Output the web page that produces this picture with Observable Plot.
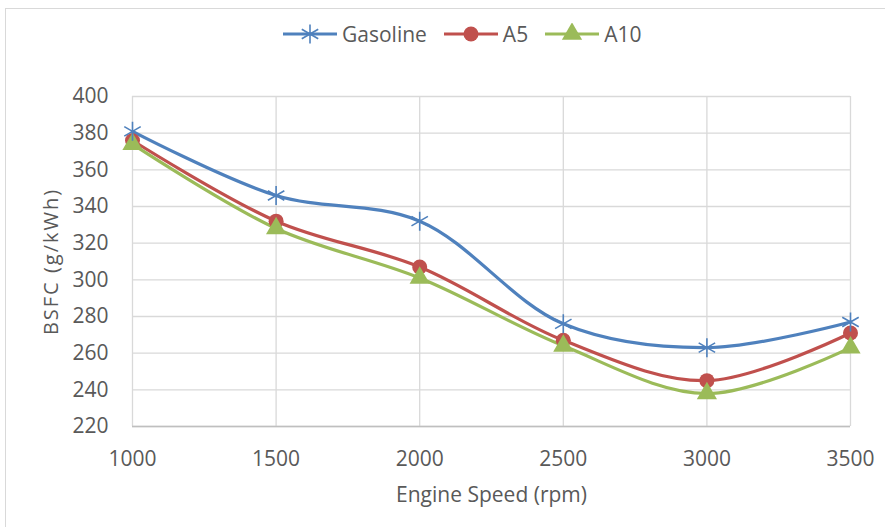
<!DOCTYPE html>
<html>
<head>
<meta charset="utf-8">
<script src="https://cdn.jsdelivr.net/npm/d3@7"></script>
<script src="https://cdn.jsdelivr.net/npm/@observablehq/plot@0.6"></script>
<style>
  html, body { margin: 0; padding: 0; background: #fff; }
  #wrap { position: relative; width: 885px; height: 527px; overflow: hidden; font-family: "Open Sans", sans-serif; }
  #border { position: absolute; left: 5px; top: 8px; width: 885px; height: 540px; border: 1px solid #d9d9d9; box-sizing: border-box; }
  #legend { position: absolute; left: 283px; top: 20px; display: flex; align-items: center; font-size: 21px; color: #595959; }
  .item { display: flex; align-items: center; margin-right: 17px; }
  .item svg { margin-right: 5px; }
  #chart { position: absolute; left: 0; top: 0; }
</style>
</head>
<body>
<div id="wrap">
  <div id="border"></div>
  <div id="chart"></div>
  <div id="legend"></div>
</div>
<script>
const speeds = [1000, 1500, 2000, 2500, 3000, 3500];
const gasoline = [381, 346, 332, 276, 263, 277];
const a5 = [376, 332, 307, 267, 245, 271];
const a10 = [374, 328, 301, 264, 238, 263];
const seriesNames = ["Gasoline", "A5", "A10"];
const seriesColors = ["#4F81BD", "#C0504D", "#9BBB59"];
const seriesSymbols = ["asterisk", "circle", "triangle"];
const xTicks = [1000, 1500, 2000, 2500, 3000, 3500];
const yTicks = [220, 240, 260, 280, 300, 320, 340, 360, 380, 400];
const xTitle = "Engine Speed (rpm)";
const yTitle = "BSFC (g/kWh)";

const valuesBySeries = [gasoline, a5, a10];
const data = [];
seriesNames.forEach((s, i) => speeds.forEach((x, j) => data.push({series: s, speed: x, bsfc: valuesBySeries[i][j]})));

const color = {domain: seriesNames, range: seriesColors};
const symbol = {domain: seriesNames, range: seriesSymbols};

const chart = Plot.plot({
  width: 885,
  height: 527,
  marginLeft: 132,
  marginRight: 35,
  marginTop: 96,
  marginBottom: 101,
  style: {fontFamily: "Open Sans, sans-serif", fontSize: "21px", color: "#595959", background: "transparent", overflow: "visible"},
  x: {domain: [1000, 3500]},
  y: {domain: [220, 400]},
  color,
  symbol,
  marks: [
    Plot.gridX(xTicks, {stroke: "#d9d9d9", strokeOpacity: 1, strokeWidth: 1.3}),
    Plot.gridY(yTicks, {stroke: "#d9d9d9", strokeOpacity: 1, strokeWidth: 1.3}),
    Plot.ruleY([220], {stroke: "#bfbfbf", strokeWidth: 1.3}),
    Plot.axisX(xTicks, {tickSize: 0, tickPadding: 25, label: null, tickFormat: d => String(d), fill: "#595959"}),
    Plot.axisY(yTicks, {tickSize: 0, tickPadding: 24, label: null, tickFormat: d => String(d), fill: "#595959"}),
    Plot.text([xTitle], {frameAnchor: "bottom", dy: 69, lineAnchor: "middle", fill: "#595959", fontSize: 21}),
    Plot.text([yTitle], {frameAnchor: "left", dx: -81, rotate: -90, textAnchor: "middle", lineAnchor: "middle", fill: "#595959", fontSize: 20, style: "letter-spacing: 2px"}),
    Plot.line(data, {x: "speed", y: "bsfc", z: "series", stroke: "series", strokeWidth: 3.2, curve: "catmull-rom"}),
    Plot.dot(data.filter(d => d.series !== "Gasoline"), {x: "speed", y: "bsfc", symbol: "series", fill: "series", r: 7.5}),
    Plot.dot(data.filter(d => d.series === "Gasoline"), {x: "speed", y: "bsfc", symbol: "series", stroke: "series", strokeWidth: 1.6, r: 9})
  ]
});
document.getElementById("chart").appendChild(chart);
d3.select(chart).selectAll("text").filter(function() { return this.textContent === yTitle; }).attr("letter-spacing", "2px");

// legend
const legend = d3.select("#legend");
const symMap = {asterisk: d3.symbolAsterisk, circle: d3.symbolCircle, triangle: d3.symbolTriangle};
seriesNames.forEach((s, i) => {
  const item = legend.append("div").attr("class", "item");
  const svg = item.append("svg").attr("width", 54).attr("height", 22);
  svg.append("line").attr("x1", 0).attr("x2", 54).attr("y1", 11).attr("y2", 11)
    .attr("stroke", seriesColors[i]).attr("stroke-width", 3.2);
  const r = seriesSymbols[i] === "asterisk" ? 9 : 7.5;
  const p = svg.append("path").attr("transform", "translate(27,11)")
    .attr("d", d3.symbol(symMap[seriesSymbols[i]], Math.PI * r * r)());
  if (seriesSymbols[i] === "asterisk") p.attr("fill", "none").attr("stroke", seriesColors[i]).attr("stroke-width", 1.6);
  else p.attr("fill", seriesColors[i]);
  item.append("span").text(s);
});
</script>
</body>
</html>
